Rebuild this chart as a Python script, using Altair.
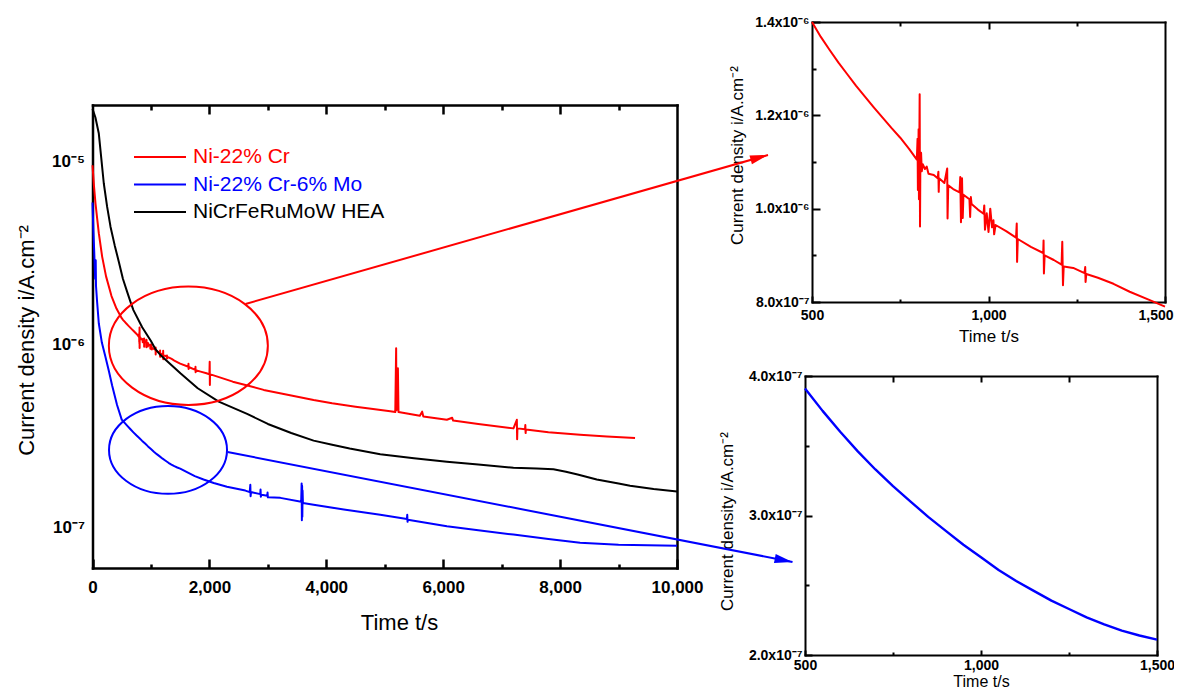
import altair as alt
import pandas as pd

W, H = 1166, 681
FONT = "Liberation Sans"

# ---------------- data (current density in uA/cm2) ----------------
names = ["Ni-22% Cr", "Ni-22% Cr-6% Mo", "NiCrFeRuMoW HEA"]
colors = ["#ff0000", "#0000ff", "#000000"]
widths = [2.0, 2.0, 3.2]

red_t = [0, 25, 51, 80, 108, 165, 232, 325, 410, 500, 525, 550, 575, 600, 625, 650, 675, 700,
         725, 750, 775, 797, 799, 800, 802, 803, 805, 806, 807, 809, 811, 814, 820, 825, 830, 845,
         856, 858, 859, 860, 875, 883, 884, 886, 900, 918, 920, 922, 925, 927, 929, 946, 948, 950,
         952, 970, 986, 988, 990, 995, 1000, 1005, 1010, 1014, 1016, 1020, 1050, 1078, 1080, 1081,
         1083, 1120, 1155, 1156, 1157, 1159, 1185, 1207, 1209, 1211, 1213, 1240, 1272, 1274, 1275,
         1277, 1310, 1354, 1400, 1457, 1500, 1640, 1642, 1644, 1646, 1760, 1762, 1764, 1766, 1850,
         1950, 2000, 2005, 2008, 2011, 2046, 2400, 2700, 2929, 3400, 3783, 4100, 4500, 4800, 5094,
         5180, 5195, 5200, 5225, 5235, 5600, 5640, 5660, 6063, 6154, 6170, 6600, 7202, 7260, 7265,
         7270, 7400, 7405, 7410, 7415, 7800, 8342, 8800, 9282]
red_i = [9.6, 7.4, 5.95, 4.9, 4.08, 3.04, 2.37, 1.85, 1.58, 1.400, 1.368, 1.340, 1.313, 1.288,
         1.263, 1.240, 1.217, 1.195, 1.173, 1.152, 1.128, 1.105, 1.15, 1.04, 1.17, 1.02, 1.245,
         0.962, 1.10, 1.12, 1.08, 1.095, 1.085, 1.09, 1.075, 1.072, 1.065, 1.079, 1.036, 1.065,
         1.055, 1.086, 0.979, 1.05, 1.042, 1.035, 1.068, 0.971, 1.065, 0.98, 1.03, 1.02, 0.982,
         1.025, 1.01, 0.998, 0.989, 1.007, 0.955, 0.99, 0.95, 1.0, 0.96, 0.975, 0.945, 0.965, 0.952,
         0.938, 0.968, 0.886, 0.935, 0.918, 0.905, 0.932, 0.861, 0.90, 0.89, 0.88, 0.929, 0.836,
         0.876, 0.873, 0.862, 0.875, 0.843, 0.86, 0.852, 0.839, 0.822, 0.804, 0.79, 0.76, 0.79,
         0.74, 0.758, 0.73, 0.76, 0.71, 0.728, 0.715, 0.70, 0.69, 0.81, 0.605, 0.69, 0.686, 0.63,
         0.595, 0.568, 0.53, 0.50, 0.48, 0.46, 0.447, 0.434, 0.43, 0.96, 0.44, 0.745, 0.43, 0.41,
         0.432, 0.407, 0.39, 0.40, 0.386, 0.37, 0.35, 0.39, 0.305, 0.35, 0.346, 0.365, 0.33, 0.345,
         0.333, 0.323, 0.316, 0.31]

blue_t = [0, 15, 30, 45, 55, 60, 80, 108, 160, 222, 280, 336, 420, 500, 550, 600, 650, 700, 750,
          800, 850, 900, 950, 1000, 1050, 1100, 1150, 1200, 1250, 1300, 1350, 1400, 1450, 1500,
          1600, 1750, 1900, 2074, 2300, 2615, 2690, 2700, 2705, 2712, 2870, 2875, 2880, 2890, 2990,
          2995, 3000, 3214, 3570, 3578, 3582, 3586, 3590, 3594, 3600, 3783, 4300, 4923, 5380, 5385,
          5390, 5395, 6063, 6600, 7202, 7800, 8342, 9000, 9500, 10000]
blue_i = [6.0, 4.2, 3.2, 2.3, 2.9, 2.1, 1.7, 1.31, 1.03, 0.86, 0.72, 0.60, 0.47, 0.391, 0.375,
          0.360, 0.346, 0.333, 0.321, 0.310, 0.299, 0.289, 0.279, 0.270, 0.261, 0.253, 0.246,
          0.239, 0.233, 0.227, 0.222, 0.2175, 0.214, 0.211, 0.203, 0.192, 0.184, 0.176, 0.168,
          0.16, 0.157, 0.172, 0.149, 0.157, 0.153, 0.162, 0.148, 0.152, 0.150, 0.156, 0.147, 0.146,
          0.139, 0.175, 0.11, 0.17, 0.115, 0.16, 0.137, 0.134, 0.126, 0.118, 0.112, 0.118, 0.108,
          0.111, 0.102, 0.097, 0.092, 0.087, 0.083, 0.081, 0.0805, 0.080]

black_t = [0, 50, 108, 150, 193, 250, 308, 380, 450, 520, 593, 650, 700, 850, 1000, 1080, 1150,
           1250, 1504, 1800, 2160, 2645, 3000, 3400, 3783, 4100, 4400, 4923, 5500, 6063, 6600, 7202,
           7600, 7886, 8100, 8300, 8627, 9000, 9197, 9600, 10000]
black_i = [19.5, 17.5, 14.3, 10.5, 7.65, 5.7, 4.43, 3.5, 2.85, 2.3, 1.95, 1.72, 1.55, 1.25, 1.05,
           0.945, 0.89, 0.83, 0.70, 0.58, 0.49, 0.42, 0.37, 0.33, 0.30, 0.285, 0.272, 0.253, 0.24,
           0.23, 0.222, 0.213, 0.211, 0.209, 0.203, 0.196, 0.184, 0.175, 0.17, 0.163, 0.158]

# tick values
main_x_major = [0, 2000, 4000, 6000, 8000, 10000]
main_x_minor = [1000, 3000, 5000, 7000, 9000]
main_top_major = [2000, 4000, 6000, 8000]
main_y_ticks = [1e-7, 1e-6, 1e-5]
ins_x_major = [500, 1000, 1500]
ins_x_minor = [750, 1250]
top_y_major = [8e-7, 1.0e-6, 1.2e-6, 1.4e-6]
top_y_minor = [9e-7, 1.1e-6, 1.3e-6]
bot_y_major = [2e-7, 3e-7, 4e-7]
bot_y_minor = [2.5e-7, 3.5e-7]

# annotation anchors (main-panel data coordinates)
ell_t = [1640, 1292]
ell_i = [0.99e-6, 0.267e-6]
arr_t0 = [2618, 2310]
arr_i0 = [1.675e-6, 0.26e-6]
arr_t1 = [11557, 11976]
arr_i1 = [1.092e-5, 0.652e-7]

UA = 1e-6
frames = []
for nm, ts, vs in zip(names, [red_t, blue_t, black_t], [red_i, blue_i, black_i]):
    frames.append(pd.DataFrame({"t": ts, "i": [v * UA for v in vs], "series": nm}))
df = pd.concat(frames, ignore_index=True)

# ---------------- scales (pixel ranges inside one canvas) ----------------
xs_main = alt.Scale(domain=[0, 10000], range=[84.5, 669], nice=False, zero=False)
ys_main = alt.Scale(type="log", domain=[6.04e-8, 2.048e-5], range=[560, 97], nice=False)
xs_top = alt.Scale(domain=[500, 1500], range=[804, 1157], nice=False, zero=False)
ys_top = alt.Scale(domain=[8e-7, 1.4e-6], range=[294, 14], nice=False, zero=False)
xs_bot = alt.Scale(domain=[500, 1500], range=[797, 1149], nice=False, zero=False)
ys_bot = alt.Scale(domain=[2e-7, 4e-7], range=[647, 368], nice=False, zero=False)

LBL_POW = ("'10' + (round(log(datum.value) / LN10) == -5 ? '\u207b\u2075' : "
           "round(log(datum.value) / LN10) == -6 ? '\u207b\u2076' : '\u207b\u2077')")
LBL_SCI = ("format(datum.value / pow(10, floor(log(datum.value) / LN10 + 1e-6)), '.1f') + 'x10' + "
           "(floor(log(datum.value) / LN10 + 1e-6) == -6 ? '\u207b\u2076' : '\u207b\u2077')")
YTITLE = "Current density i/A.cm\u207b\u00b2"


def axis(orient, offset, values=None, tick=0, domain=False, labels=False, lw=2.0, **kw):
    opts = dict(orient=orient, offset=offset, domain=domain, labels=labels, ticks=tick > 0,
                tickSize=tick, grid=False, title=None, domainColor="#000000",
                tickColor="#000000", domainWidth=lw, tickWidth=lw, domainCap="square",
                labelFlush=False, labelOverlap=False, labelColor="#000000", labelFont=FONT,
                labelFontWeight="bold", titleFont=FONT, titleFontWeight="normal",
                titleColor="#000000")
    if values is not None:
        opts["values"] = values
    opts.update(kw)
    return alt.Axis(**opts)


def ax_layer(xdom, ydom, xs, ys, xaxis, yaxis):
    d = pd.DataFrame({"t": xdom, "i": ydom})
    return alt.Chart(d).mark_point(opacity=0).encode(
        x=alt.X("t:Q", scale=xs, axis=xaxis),
        y=alt.Y("i:Q", scale=ys, axis=yaxis))


# ---------------- main panel ----------------
mdx, mdy = [0, 10000], [6.04e-8, 2.048e-5]
m_axes = [
    ax_layer(mdx, mdy, xs_main, ys_main,
             axis("bottom", 560 - H, main_x_major, labels=True, format=",d", labelFontSize=17,
                  labelPadding=11, title="Time t/s", titleFontSize=22, titleX=391, titleY=54,
                  titleBaseline="middle"),
             axis("left", -84.5, main_y_ticks, domain=True, labels=True, lw=2.5,
                  labelExpr=LBL_POW, labelFontSize=17, labelPadding=8, title=YTITLE,
                  titleFontSize=22, titleX=-66, titleY=332, titleAngle=270,
                  titleBaseline="middle")),
    ax_layer(mdx, mdy, xs_main, ys_main,
             axis("top", -560, main_x_major, tick=9, domain=True, lw=2.5),
             axis("left", -669, main_y_ticks, domain=True, lw=2.5)),
    ax_layer(mdx, mdy, xs_main, ys_main, axis("top", -560, main_x_minor, tick=4, lw=2.5), None),
    ax_layer(mdx, mdy, xs_main, ys_main,
             axis("bottom", 97 - H, main_top_major, tick=9, domain=True, lw=2.5), None),
    ax_layer(mdx, mdy, xs_main, ys_main, axis("bottom", 97 - H, main_x_minor, tick=5, lw=2.5), None),
]

label_fill = ("datum.value === 'Ni-22% Cr' ? '#ff0000' : "
              "datum.value === 'Ni-22% Cr-6% Mo' ? '#0000ff' : '#000000'")

lines = alt.Chart(df).mark_line(strokeJoin="round").encode(
    x=alt.X("t:Q", scale=xs_main, axis=None),
    y=alt.Y("i:Q", scale=ys_main, axis=None),
    color=alt.Color("series:N", scale=alt.Scale(domain=names, range=colors),
                    legend=alt.Legend(orient="none", legendX=125, legendY=138, title=None,
                                      direction="vertical", symbolType="stroke",
                                      symbolSize=2704, symbolStrokeWidth=2.5,
                                      labelFont=FONT, labelFontSize=21, labelOffset=6,
                                      clipHeight=22, rowPadding=5.5, padding=0, labelLimit=400,
                                      labelColor=alt.ExprRef(expr=label_fill))),
    strokeWidth=alt.StrokeWidth("series:N", scale=alt.Scale(domain=names, range=widths), legend=None),
    order=alt.Order("t:Q"),
)

ELLIPSE = "M -1 0 A 1 0.744 0 1 1 1 0 A 1 0.744 0 1 1 -1 0 Z"
HEAD = "M 0 0 L -2 -0.5 L -2 0.5 Z"
ell_rx = [79.5, 59.0]
arr_angle = [344.1, 11.0]

ann = []
for k in range(2):
    c = colors[k]
    e = pd.DataFrame({"t": [ell_t[k]], "i": [ell_i[k]]})
    ann.append(alt.Chart(e).mark_point(shape=ELLIPSE, size=(2 * ell_rx[k]) ** 2, filled=False,
                                       color=c, strokeWidth=2, opacity=1).encode(
        x=alt.X("t:Q", scale=xs_main, axis=None), y=alt.Y("i:Q", scale=ys_main, axis=None)))
    a = pd.DataFrame({"t0": [arr_t0[k]], "i0": [arr_i0[k]], "t1": [arr_t1[k]], "i1": [arr_i1[k]]})
    ann.append(alt.Chart(a).mark_rule(color=c, strokeWidth=2).encode(
        x=alt.X("t0:Q", scale=xs_main, axis=None), x2="t1:Q",
        y=alt.Y("i0:Q", scale=ys_main, axis=None), y2="i1:Q"))
    ann.append(alt.Chart(a).mark_point(shape=HEAD, size=324, filled=True, color=c, opacity=1,
                                       angle=arr_angle[k], strokeWidth=0).encode(
        x=alt.X("t1:Q", scale=xs_main, axis=None), y=alt.Y("i1:Q", scale=ys_main, axis=None)))

main_panel = alt.layer(*m_axes, lines, *ann).resolve_axis(x="independent", y="independent")

# ---------------- top inset (Ni-22% Cr) ----------------
tdx, tdy = [500, 1500], [8e-7, 1.4e-6]
t_axes = [
    ax_layer(tdx, tdy, xs_top, ys_top,
             axis("bottom", 294 - H, ins_x_major[:2], labels=True, format=",d", labelFontSize=14,
                  labelPadding=6, title="Time t/s", titleFontSize=17, titleY=34,
                  titleBaseline="middle"),
             axis("left", -804, top_y_major, labels=True, labelExpr=LBL_SCI, labelFontSize=14,
                  labelPadding=3, title=YTITLE, titleFontSize=17, titleX=-75, titleY=147,
                  titleAngle=270, titleBaseline="middle")),
    ax_layer(tdx, tdy, xs_top, ys_top,
             axis("top", -294, ins_x_major, tick=6, domain=True),
             axis("right", 804 - W, top_y_major, tick=8, domain=True)),
    ax_layer(tdx, tdy, xs_top, ys_top,
             axis("top", -294, ins_x_minor, tick=3),
             axis("right", 804 - W, top_y_minor, tick=4)),
    ax_layer(tdx, tdy, xs_top, ys_top,
             axis("bottom", 14 - H, [1000], tick=7, domain=True),
             axis("left", -1157, top_y_major, domain=True)),
    ax_layer(tdx, tdy, xs_top, ys_top, axis("bottom", 14 - H, ins_x_minor, tick=4), None),
    ax_layer(tdx, tdy, xs_top, ys_top,
             axis("bottom", 294 - H, ins_x_major[2:], labels=True, format=",d", labelFontSize=14,
                  labelPadding=6, labelAlign="right", labelOffset=8), None),
]
top_line = alt.Chart(df).transform_filter(
    (alt.datum.series == names[0]) & (alt.datum.t >= 500) & (alt.datum.t <= 1500)
).mark_line(color=colors[0], strokeWidth=2, strokeJoin="round").encode(
    x=alt.X("t:Q", scale=xs_top, axis=None),
    y=alt.Y("i:Q", scale=ys_top, axis=None),
    order=alt.Order("t:Q"))
top_panel = alt.layer(*t_axes, top_line).resolve_axis(x="independent", y="independent")

# ---------------- bottom inset (Ni-22% Cr-6% Mo) ----------------
bdx, bdy = [500, 1500], [2e-7, 4e-7]
b_axes = [
    ax_layer(bdx, bdy, xs_bot, ys_bot,
             axis("bottom", 647 - H, ins_x_major, labels=True, format=",d", labelFontSize=14,
                  labelPadding=3, title="Time t/s", titleFontSize=16, titleY=26,
                  titleBaseline="middle"),
             axis("left", -797, bot_y_major, labels=True, labelExpr=LBL_SCI, labelFontSize=14,
                  labelPadding=3, title=YTITLE, titleFontSize=17, titleX=-78, titleY=513,
                  titleAngle=270, titleBaseline="middle")),
    ax_layer(bdx, bdy, xs_bot, ys_bot,
             axis("top", -647, ins_x_major, tick=5, domain=True),
             axis("right", 797 - W, bot_y_major, tick=7, domain=True)),
    ax_layer(bdx, bdy, xs_bot, ys_bot,
             axis("top", -647, ins_x_minor, tick=3),
             axis("right", 797 - W, bot_y_minor, tick=4)),
    ax_layer(bdx, bdy, xs_bot, ys_bot,
             axis("bottom", 368 - H, [750, 1000, 1250], tick=6, domain=True),
             axis("left", -1149, bot_y_major, domain=True)),
]
bot_line = alt.Chart(df).transform_filter(
    (alt.datum.series == names[1]) & (alt.datum.t >= 500) & (alt.datum.t <= 1500)
).mark_line(color=colors[1], strokeWidth=2.4, strokeJoin="round").encode(
    x=alt.X("t:Q", scale=xs_bot, axis=None),
    y=alt.Y("i:Q", scale=ys_bot, axis=None),
    order=alt.Order("t:Q"))
bot_panel = alt.layer(*b_axes, bot_line).resolve_axis(x="independent", y="independent")

chart = alt.layer(main_panel, top_panel, bot_panel).resolve_scale(
    x="independent", y="independent"
).properties(
    width=W, height=H, padding=0, autosize=alt.AutoSizeParams(type="none")
).configure_view(stroke=None).configure_axis(grid=False)

chart.save("out.html", embed_options={"renderer": "svg", "actions": False})
